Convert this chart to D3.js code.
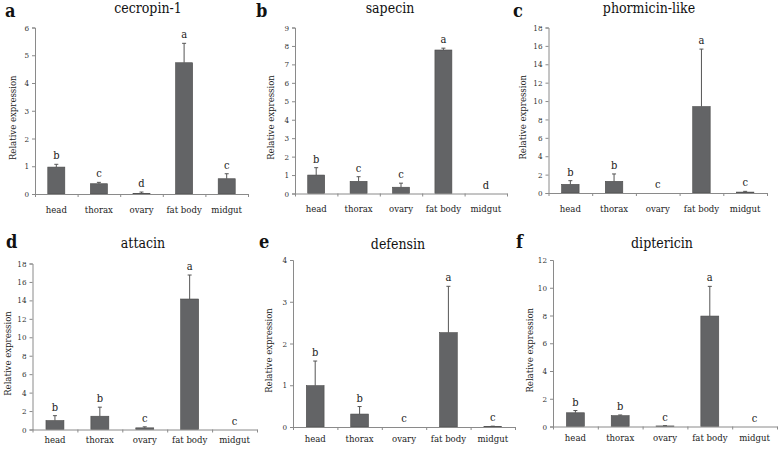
<!DOCTYPE html>
<html>
<head>
<meta charset="utf-8">
<script src="https://cdn.jsdelivr.net/npm/d3@7"></script>
<style>
  body { margin: 0; background: #fff; }
  svg text { font-family: "DejaVu Serif Condensed", "DejaVu Serif", serif; font-stretch: condensed; }
</style>
</head>
<body>
<svg id="chart" width="778" height="452"></svg>
<script>
// tissues on the x axis
const tissues = ['head', 'thorax', 'ovary', 'fat body', 'midgut'];

// genes, one per panel
const genes = ['cecropin-1', 'sapecin', 'phormicin-like', 'attacin', 'defensin', 'diptericin'];
const panelLetters = ['a', 'b', 'c', 'd', 'e', 'f'];

// mean relative expression per gene (tissue order as above)
const cecropinMean = [0.97, 0.37, 0.02, 4.73, 0.55];
const sapecinMean = [1.0, 0.66, 0.34, 7.78, 0];
const phormicinMean = [0.94, 1.27, 0, 9.4, 0.1];
const attacinMean = [0.97, 1.44, 0.18, 14.15, 0];
const defensinMean = [0.99, 0.31, 0, 2.26, 0.01];
const diptericinMean = [0.99, 0.78, 0.04, 7.96, 0];

// standard error (upper bar only)
const cecropinErr = [0.1, 0.05, 0.05, 0.7, 0.18];
const sapecinErr = [0.4, 0.25, 0.22, 0.1, 0];
const phormicinErr = [0.4, 0.8, 0, 6.25, 0.08];
const attacinErr = [0.53, 0.98, 0.11, 2.6, 0];
const defensinErr = [0.59, 0.18, 0, 1.11, 0.01];
const diptericinErr = [0.16, 0.05, 0.02, 2.14, 0];

// significance letters
const cecropinSig = ['b', 'c', 'd', 'a', 'c'];
const sapecinSig = ['b', 'c', 'c', 'a', 'd'];
const phormicinSig = ['b', 'b', 'c', 'a', 'c'];
const attacinSig = ['b', 'b', 'c', 'a', 'c'];
const defensinSig = ['b', 'b', 'c', 'a', 'c'];
const diptericinSig = ['b', 'b', 'c', 'a', 'c'];

// y axis ranges
const yMax = [6, 9, 18, 18, 4, 12];
const yStep = [1, 1, 2, 2, 1, 2];

const means = [cecropinMean, sapecinMean, phormicinMean, attacinMean, defensinMean, diptericinMean];
const errs = [cecropinErr, sapecinErr, phormicinErr, attacinErr, defensinErr, diptericinErr];
const sigs = [cecropinSig, sapecinSig, phormicinSig, attacinSig, defensinSig, diptericinSig];

const FONT = '"DejaVu Serif Condensed", "DejaVu Serif", serif';

// panel placement (plot box in page pixels)
const layout = [
    { x0: 35, x1: 248, top: 27.5, bottom: 194, labelPad: 12, titleX: 148, titleY: 13, letterX: 5, letterY: 17, labelX: 13 },
    { x0: 295, x1: 507, top: 27.5, bottom: 193.5, labelPad: 12, titleX: 390, titleY: 13, letterX: 256, letterY: 17, labelX: 271 },
    { x0: 548.5, x1: 767, top: 27.5, bottom: 193, labelPad: 12, titleX: 649, titleY: 13, letterX: 513, letterY: 17, labelX: 523 },
    { x0: 32.5, x1: 257, top: 263.5, bottom: 429.5, labelPad: 7, titleX: 143, titleY: 248, letterX: 6, letterY: 248, labelX: 8 },
    { x0: 293, x1: 515, top: 260, bottom: 427, labelPad: 8, titleX: 398, titleY: 248.5, letterX: 259, letterY: 248, labelX: 269 },
    { x0: 553, x1: 777, top: 260, bottom: 426.5, labelPad: 8, titleX: 662, titleY: 248, letterX: 516, letterY: 248, labelX: 530 }
];

const svg = d3.select('#chart');

genes.forEach((gene, i) => {
    const L = layout[i];
    const g = svg.append('g');

    const x = d3.scaleBand()
        .domain(tissues)
        .range([L.x0, L.x1])
        .paddingInner(0.6)
        .paddingOuter(0.3);

    const xEdges = d3.scaleLinear()
        .domain([0, tissues.length])
        .range([L.x0, L.x1]);

    const y = d3.scaleLinear()
        .domain([0, yMax[i]])
        .range([L.bottom, L.top]);

    const rows = tissues.map((t, j) => ({
        tissue: t,
        mean: means[i][j],
        err: errs[i][j],
        sig: sigs[i][j]
    }));

    // bars
    g.selectAll('.bar')
        .data(rows)
        .enter()
        .append('rect')
        .attr('class', 'bar')
        .attr('x', d => x(d.tissue))
        .attr('y', d => y(d.mean))
        .attr('width', x.bandwidth())
        .attr('height', d => y(0) - y(d.mean))
        .attr('fill', '#636466')
        .attr('stroke', '#4a4a4a')
        .attr('stroke-width', 0.6);

    // upper error bars with caps
    const withErr = rows.filter(d => d.err > 0);
    g.selectAll('.err')
        .data(withErr)
        .enter()
        .append('line')
        .attr('x1', d => x(d.tissue) + x.bandwidth() / 2)
        .attr('x2', d => x(d.tissue) + x.bandwidth() / 2)
        .attr('y1', d => y(d.mean))
        .attr('y2', d => y(d.mean + d.err))
        .attr('stroke', '#555')
        .attr('stroke-width', 1);

    g.selectAll('.cap')
        .data(withErr)
        .enter()
        .append('line')
        .attr('x1', d => x(d.tissue) + x.bandwidth() / 2 - 2)
        .attr('x2', d => x(d.tissue) + x.bandwidth() / 2 + 2)
        .attr('y1', d => y(d.mean + d.err))
        .attr('y2', d => y(d.mean + d.err))
        .attr('stroke', '#555')
        .attr('stroke-width', 1);

    // significance letters
    g.selectAll('.sig')
        .data(rows)
        .enter()
        .append('text')
        .attr('x', d => x(d.tissue) + x.bandwidth() / 2)
        .attr('y', d => y(d.mean + d.err) - 5)
        .attr('text-anchor', 'middle')
        .style('font-family', FONT)
        .style('font-size', '11px')
        .style('fill', '#222')
        .text(d => d.sig);

    // y axis
    const yAxis = g.append('g')
        .attr('transform', `translate(${L.x0},0)`)
        .call(d3.axisLeft(y)
            .tickValues(d3.range(0, yMax[i] + yStep[i] / 2, yStep[i]))
            .tickSize(3)
            .tickPadding(3)
            .tickFormat(d3.format('d')));
    yAxis.attr('font-family', null);
    yAxis.select('.domain').attr('stroke', '#8a8a8a');
    yAxis.selectAll('.tick line').attr('stroke', '#8a8a8a');
    yAxis.selectAll('.tick text')
        .style('font-family', FONT)
        .style('font-size', '8px')
        .style('fill', '#333');

    // x axis: labels at centres, ticks at category edges
    const xAxis = g.append('g')
        .attr('transform', `translate(0,${L.bottom})`)
        .call(d3.axisBottom(x).tickSize(0).tickPadding(L.labelPad));
    xAxis.attr('font-family', null);
    xAxis.select('.domain').remove();
    xAxis.selectAll('.tick text')
        .style('font-family', FONT)
        .style('font-size', '9.5px')
        .style('fill', '#222');

    const edgeAxis = g.append('g')
        .attr('transform', `translate(0,${L.bottom})`)
        .call(d3.axisBottom(xEdges)
            .tickValues(d3.range(0, tissues.length + 1))
            .tickSize(3)
            .tickSizeOuter(0)
            .tickFormat(''));
    edgeAxis.select('.domain').attr('stroke', '#8a8a8a');
    edgeAxis.selectAll('.tick line').attr('stroke', '#8a8a8a');

    // y label
    g.append('text')
        .attr('transform', `translate(${L.labelX},${(L.top + L.bottom) / 2 + 7}) rotate(-90)`)
        .attr('text-anchor', 'middle')
        .attr('dy', '0.35em')
        .style('font-family', FONT)
        .style('font-size', '9.5px')
        .style('fill', '#222')
        .text('Relative expression');

    // gene title
    g.append('text')
        .attr('x', L.titleX)
        .attr('y', L.titleY)
        .attr('text-anchor', 'middle')
        .style('font-family', FONT)
        .style('font-size', '14px')
        .style('fill', '#111')
        .text(gene);

    // panel letter
    g.append('text')
        .attr('x', L.letterX)
        .attr('y', L.letterY)
        .style('font-family', FONT)
        .style('font-size', '18px')
        .style('font-weight', 'bold')
        .style('fill', '#111')
        .text(panelLetters[i]);
});
</script>
</body>
</html>
